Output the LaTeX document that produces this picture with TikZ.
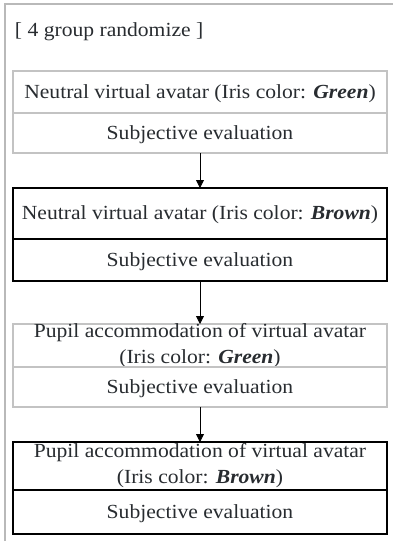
\documentclass[tikz,border=0pt]{standalone}
\usepackage{fontspec}
\setmainfont[FakeStretch=1.08]{Liberation Serif}
\usetikzlibrary{positioning,arrows.meta}
\definecolor{framegray}{RGB}{185,185,185}
\definecolor{boxgray}{RGB}{195,195,195}
\definecolor{inkgray}{RGB}{40,44,48}

\begin{document}
\begin{tikzpicture}[x=1pt,y=-1pt,
    every node/.style={inner sep=2pt,outer sep=0pt,text=inkgray,
      font=\fontsize{20}{26}\selectfont},
    row/.style={minimum width=374pt,align=center},
    oneline/.style={text height=14pt,text depth=2pt},
    twoline/.style={inner ysep=-2pt},
    softrow/.style={row,draw=boxgray,line width=1.6pt},
    hardrow/.style={row,draw=black,line width=1.2pt},
    flow/.style={-{Triangle[length=8pt,width=8pt]},line width=0.8pt}]
    \useasboundingbox (0,0) rectangle (392,544);
    % outer frame, cut off on the right and at the bottom
    \draw [framegray,line width=2.4pt] (5,541) -- (5,4) -- (395,4);
    \node [anchor=west] (title) at (13,32) {[ 4 group randomize ]};
    % group 1
    \node [softrow,oneline,anchor=north,minimum height=42pt] (neutralG) at (200,71)
      {Neutral virtual avatar (Iris color: \textbf{\textit{Green}})};
    \node [softrow,oneline,minimum height=40pt,below=0pt of neutralG] (evalA)
      {Subjective evaluation};
    % group 2
    \node [hardrow,oneline,anchor=north,minimum height=51pt] (neutralB) at (200,188)
      {Neutral virtual avatar (Iris color: \textbf{\textit{Brown}})};
    \node [hardrow,oneline,minimum height=42pt,below=0pt of neutralB] (evalB)
      {Subjective evaluation};
    % group 3
    \node [softrow,twoline,anchor=north,minimum height=43pt] (pupilG) at (200,324)
      {Pupil accommodation of virtual avatar\\(Iris color: \textbf{\textit{Green}})};
    \node [softrow,oneline,minimum height=40pt,below=0pt of pupilG] (evalC)
      {Subjective evaluation};
    % group 4
    \node [hardrow,twoline,anchor=north,minimum height=48pt] (pupilB) at (200,442)
      {Pupil accommodation of virtual avatar\\(Iris color: \textbf{\textit{Brown}})};
    \node [hardrow,oneline,minimum height=44pt,below=0pt of pupilB] (evalD)
      {Subjective evaluation};
    \draw [flow] (evalA.south) -- (neutralB.north);
    \draw [flow] (evalB.south) -- (pupilG.north);
    \draw [flow] (evalC.south) -- (pupilB.north);
\end{tikzpicture}
\end{document}
